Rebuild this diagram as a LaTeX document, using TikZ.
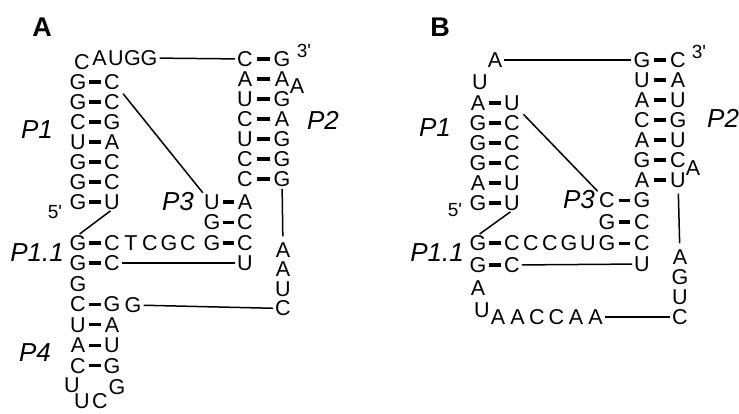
\documentclass[tikz,border=0pt]{standalone}
\usepackage{fontspec}
\setmainfont{Liberation Sans}
\usetikzlibrary{calc}
\newcommand\bpair[2]{\draw[bp] ($(#1)!.33!(#2)$) -- ($(#1)!.67!(#2)$);}

\begin{document}
\begin{tikzpicture}[x=1pt, y=-1pt,
            nt/.style={font=\fontsize{21.5}{21.5}\selectfont, inner sep=0pt},
            prime/.style={font=\fontsize{19}{19}\selectfont, inner sep=0pt},
            stem/.style={font=\fontsize{26}{26}\selectfont\itshape, inner sep=0pt},
            panel/.style={font=\fontsize{27}{27}\selectfont\bfseries, inner sep=0pt},
            bp/.style={line width=3.2pt},
            ln/.style={line width=1.5pt, shorten >=2pt, shorten <=2pt}
            ]
        \useasboundingbox (0,0) rectangle (739,413);

        % panel A
        \node[panel] (labA) at (42,27) {A};
        \node[nt] (aC0) at (82,62) {C};
        \foreach \l [count=\i] in {A,U,G,G}
            \node[nt] (aT\i) at (83+16.5*\i,58) {\l};
        \foreach \l/\r [count=\i] in {G/C,G/C,C/G,U/A,G/C,G/C,G/U}{
            \node[nt] (a1l\i) at (78,62+20*\i) {\l};
            \node[nt] (a1r\i) at (112,62+20*\i) {\r};
            \bpair{a1l\i}{a1r\i}
        }
        \foreach \l/\r [count=\i] in {C/G,A/A,U/G,C/A,U/G,C/G,C/G}{
            \node[nt] (a2l\i) at (245,39+20*\i) {\l};
            \node[nt] (a2r\i) at (282,39+20*\i) {\r};
            \bpair{a2l\i}{a2r\i}
        }
        \node[nt] (aBul) at (297,86) {A};
        \node[prime] (a3p) at (304,51) {3\textquotesingle};
        \foreach \l/\r [count=\i] in {U/A,G/C,G/C}{
            \node[nt] (a3l\i) at (212,181.5+20.5*\i) {\l};
            \node[nt] (a3r\i) at (245,181.5+20.5*\i) {\r};
            \bpair{a3l\i}{a3r\i}
        }
        \node[nt] (a3r4) at (245,263) {U};
        \node[nt] (aj0) at (78,243) {G};
        \foreach \l [count=\i] in {C,T,C,G,C}
            \node[nt] (aj\i) at (93+19*\i,243) {\l};
        \bpair{aj0}{aj1}
        \node[nt] (ak0) at (78,263) {G};
        \node[nt] (ak1) at (112,263) {C};
        \bpair{ak0}{ak1}
        \node[nt] (aG0) at (78,284) {G};
        \foreach \l/\r [count=\i] in {C/G,U/A,A/U,C/G}{
            \node[nt] (a4l\i) at (78,284+20.4*\i) {\l};
            \node[nt] (a4r\i) at (112,284+20.4*\i) {\r};
            \bpair{a4l\i}{a4r\i}
        }
        \node[nt] (aG5) at (133,305) {G};
        \node[nt] (aLp1) at (72,385) {U};
        \node[nt] (aLp2) at (82,401) {U};
        \node[nt] (aLp3) at (100,401) {C};
        \node[nt] (aLp4) at (117,387) {G};
        \foreach \l [count=\i] in {A,A,U,C}
            \node[nt] (aS\i) at (283,230.5+19.5*\i) {\l};

        \node[stem] (aP1) at (37,130) {P1};
        \node[stem] (aP2) at (323,120) {P2};
        \node[stem] (aP3) at (178,202) {P3};
        \node[stem] (aP11) at (37,253) {P1.1};
        \node[stem] (aP4) at (35,353) {P4};
        \node[prime] (a5p) at (55,212) {5\textquotesingle};

        \draw[ln] (aT4) -- (a2l1);
        \draw[ln, shorten <=5pt] (a1r1.south east) -- (a3l1.north west);
        \draw[ln] (a1r7.south) -- (aj0.north);
        \draw[ln] (ak1) -- (a3r4);
        \draw[ln, shorten >=6pt] (a2r7) -- (aS1);
        \draw[ln] (aG5) -- (aS4);

        % panel B
        \node[panel] (labB) at (440,27) {B};
        \node[nt] (bA0) at (495,60) {A};
        \node[nt] (bU0) at (480,82) {U};
        \foreach \l/\r [count=\i] in {A/U,G/C,G/C,G/C,A/U,G/U}{
            \node[nt] (b1l\i) at (478,83+20*\i) {\l};
            \node[nt] (b1r\i) at (512,83+20*\i) {\r};
            \bpair{b1l\i}{b1r\i}
        }
        \foreach \l/\r [count=\i] in {G/C,U/A,A/U,C/G,A/U,G/C,A/U}{
            \node[nt] (b2l\i) at (642,40+20*\i) {\l};
            \node[nt] (b2r\i) at (678,40+20*\i) {\r};
            \bpair{b2l\i}{b2r\i}
        }
        \node[nt] (bBul) at (693,168) {A};
        \node[prime] (b3p) at (699,52) {3\textquotesingle};
        \foreach \l/\r [count=\i] in {C/G,G/C,G/C}{
            \node[nt] (b3l\i) at (607,179+21.5*\i) {\l};
            \node[nt] (b3r\i) at (642,179+21.5*\i) {\r};
            \bpair{b3l\i}{b3r\i}
        }
        \node[nt] (b3r4) at (642,264) {U};
        \node[nt] (bj0) at (478,243) {G};
        \foreach \l [count=\i] in {C,C,C,G,U}
            \node[nt] (bj\i) at (493+19*\i,243) {\l};
        \bpair{bj0}{bj1}
        \node[nt] (bk0) at (478,265) {G};
        \node[nt] (bk1) at (512,265) {C};
        \bpair{bk0}{bk1}
        \node[nt] (bA1) at (478,288) {A};
        \node[nt] (bU1) at (482,310) {U};
        \foreach \l [count=\i] in {A,A,C,C,A,A}
            \node[nt] (bL\i) at (478.5+19.5*\i,317) {\l};
        \foreach \l [count=\i] in {A,G,U,C}
            \node[nt] (bS\i) at (680,237+20*\i) {\l};

        \node[stem] (bP1) at (435,128) {P1};
        \node[stem, anchor=west] (bP2) at (707,118) {P2};
        \node[stem] (bP3) at (579,200) {P3};
        \node[stem] (bP11) at (437,253) {P1.1};
        \node[prime] (b5p) at (455,210) {5\textquotesingle};

        \draw[ln] (bA0) -- (b2l1);
        \draw[ln, shorten <=5pt] (b1r1.south east) -- (b3l1.north west);
        \draw[ln] (b1r6.south) -- (bj0.north);
        \draw[ln] (bk1) -- (b3r4);
        \draw[ln, shorten >=6pt, shorten <=6pt] (b2r7) -- (bS1);
        \draw[ln] (bL6) -- (bS4);
\end{tikzpicture}
\end{document}
